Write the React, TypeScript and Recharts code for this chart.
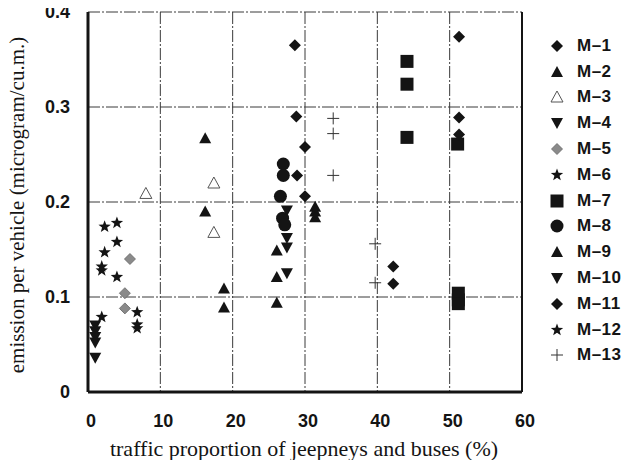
import React from 'react';
import { ScatterChart, Scatter, XAxis, YAxis, CartesianGrid, ReferenceLine } from 'recharts';

// traffic proportion (%) vs emission per vehicle, one small array per site
const m1 = [{ x: 28.6, y: 0.365 }, { x: 28.8, y: 0.29 }, { x: 30.0, y: 0.258 }, { x: 28.9, y: 0.228 }, { x: 30.0, y: 0.206 }];
const m2 = [{ x: 16.2, y: 0.267 }, { x: 16.2, y: 0.19 }, { x: 18.8, y: 0.109 }, { x: 18.8, y: 0.089 }];
const m3 = [{ x: 8.0, y: 0.209 }, { x: 17.4, y: 0.22 }, { x: 17.4, y: 0.168 }];
const m4 = [{ x: 1.0, y: 0.07 }, { x: 1.0, y: 0.064 }, { x: 1.0, y: 0.058 }, { x: 1.0, y: 0.052 }, { x: 1.0, y: 0.036 }];
const m5 = [{ x: 5.8, y: 0.14 }, { x: 5.1, y: 0.104 }, { x: 5.1, y: 0.088 }];
const m6 = [{ x: 2.3, y: 0.174 }, { x: 4.0, y: 0.178 }, { x: 4.0, y: 0.158 }, { x: 2.3, y: 0.147 }, { x: 1.9, y: 0.132 }, { x: 1.9, y: 0.128 }];
const m7 = [{ x: 44.1, y: 0.348 }, { x: 44.1, y: 0.324 }, { x: 44.1, y: 0.268 }, { x: 51.1, y: 0.261 }, { x: 51.2, y: 0.104 }, { x: 51.2, y: 0.097 }, { x: 51.2, y: 0.093 }];
const m8 = [{ x: 27.0, y: 0.24 }, { x: 27.0, y: 0.228 }, { x: 26.6, y: 0.206 }, { x: 26.9, y: 0.183 }, { x: 27.2, y: 0.176 }];
const m9 = [{ x: 26.1, y: 0.149 }, { x: 26.1, y: 0.121 }, { x: 26.1, y: 0.094 }, { x: 31.4, y: 0.195 }, { x: 31.4, y: 0.19 }, { x: 31.4, y: 0.184 }];
const m10 = [{ x: 27.5, y: 0.191 }, { x: 27.5, y: 0.162 }, { x: 27.5, y: 0.152 }, { x: 27.5, y: 0.125 }];
const m11 = [{ x: 42.2, y: 0.132 }, { x: 42.2, y: 0.114 }, { x: 51.3, y: 0.374 }, { x: 51.3, y: 0.289 }, { x: 51.3, y: 0.271 }];
const m12 = [{ x: 4.0, y: 0.121 }, { x: 1.9, y: 0.079 }, { x: 6.8, y: 0.084 }, { x: 6.8, y: 0.071 }, { x: 6.8, y: 0.067 }];
const m13 = [{ x: 33.9, y: 0.288 }, { x: 33.9, y: 0.272 }, { x: 33.9, y: 0.228 }, { x: 39.7, y: 0.156 }, { x: 39.7, y: 0.115 }];

const xTicks = [0, 10, 20, 30, 40, 50, 60];
const yTicks = [0, 0.1, 0.2, 0.3, 0.4];

const series = [
  { name: 'M–1', kind: 'diamond', data: m1 },
  { name: 'M–2', kind: 'up', data: m2 },
  { name: 'M–3', kind: 'open', data: m3 },
  { name: 'M–4', kind: 'down', data: m4 },
  { name: 'M–5', kind: 'gray', data: m5 },
  { name: 'M–6', kind: 'star', data: m6 },
  { name: 'M–7', kind: 'square', data: m7 },
  { name: 'M–8', kind: 'circle', data: m8 },
  { name: 'M–9', kind: 'up', data: m9 },
  { name: 'M–10', kind: 'down', data: m10 },
  { name: 'M–11', kind: 'diamond', data: m11 },
  { name: 'M–12', kind: 'star', data: m12 },
  { name: 'M–13', kind: 'plus', data: m13 },
];

const INK = '#141414';
const SERIF = 'Liberation Serif, Times New Roman, serif';
const SANS = 'Liberation Sans, Arial, sans-serif';

function starPoints(cx: number, cy: number, ro: number, ri: number) {
  const pts: string[] = [];
  for (let i = 0; i < 10; i++) {
    const r = i % 2 === 0 ? ro : ri;
    const a = -Math.PI / 2 + (i * Math.PI) / 5;
    pts.push(`${cx + r * Math.cos(a)},${cy + r * Math.sin(a)}`);
  }
  return pts.join(' ');
}

function Marker({ kind, cx, cy }: { kind: string; cx: number; cy: number }) {
  if (cx == null || cy == null) return null;
  switch (kind) {
    case 'diamond':
      return <polygon points={`${cx},${cy - 6} ${cx + 6},${cy} ${cx},${cy + 6} ${cx - 6},${cy}`} fill={INK} />;
    case 'gray':
      return <polygon points={`${cx},${cy - 5.5} ${cx + 5.5},${cy} ${cx},${cy + 5.5} ${cx - 5.5},${cy}`} fill="#8a8a8a" stroke="#666" strokeWidth={0.8} />;
    case 'up':
      return <polygon points={`${cx},${cy - 6} ${cx + 6},${cy + 5} ${cx - 6},${cy + 5}`} fill={INK} />;
    case 'down':
      return <polygon points={`${cx - 6},${cy - 5} ${cx + 6},${cy - 5} ${cx},${cy + 6}`} fill={INK} />;
    case 'open':
      return <polygon points={`${cx},${cy - 6} ${cx + 6},${cy + 5} ${cx - 6},${cy + 5}`} fill="#fff" stroke="#555" strokeWidth={1} />;
    case 'star':
      return <polygon points={starPoints(cx, cy, 6.5, 2.7)} fill={INK} />;
    case 'square':
      return <rect x={cx - 6.5} y={cy - 6.5} width={13} height={13} fill={INK} />;
    case 'circle':
      return <circle cx={cx} cy={cy} r={6.5} fill={INK} />;
    case 'plus':
      return (
        <g stroke="#333" strokeWidth={1}>
          <line x1={cx - 6} y1={cy} x2={cx + 6} y2={cy} />
          <line x1={cx} y1={cy - 6} x2={cx} y2={cy + 6} />
        </g>
      );
    default:
      return null;
  }
}

export default function App() {
  return (
    <div style={{ position: 'relative', width: 633, height: 468, background: '#fff', margin: -8 }}>
      <ScatterChart width={633} height={468} margin={{ top: 12, right: 111, bottom: 0, left: 0 }}>
        <CartesianGrid stroke="#3a3a3a" strokeWidth={1} strokeDasharray="12 2 2 2" />
        <XAxis
          type="number"
          dataKey="x"
          domain={[0, 60]}
          ticks={xTicks}
          height={76}
          axisLine={{ stroke: INK, strokeWidth: 3 }}
          tickLine={false}
          tickSize={0}
          tickMargin={22}
          tick={{ fill: INK, fontSize: 18, fontWeight: 'bold', fontFamily: SANS, dx: 3 }}
          label={{
            content: () => (
              <text x={304} y={456} textAnchor="middle" fill={INK} fontSize={22} fontFamily={SERIF}>
                traffic proportion of jeepneys and buses (%)
              </text>
            ),
          }}
        />
        <YAxis
          type="number"
          dataKey="y"
          domain={[0, 0.4]}
          ticks={yTicks}
          width={88}
          axisLine={{ stroke: INK, strokeWidth: 3 }}
          tickLine={false}
          tickSize={0}
          tickMargin={18}
          tickFormatter={(v: number) => (v === 0 ? '0' : v.toFixed(1))}
          tick={{ fill: INK, fontSize: 18, fontWeight: 'bold', fontFamily: SANS }}
          label={{
            content: () => (
              <text
                x={24}
                y={205}
                transform="rotate(-90 24 205)"
                textAnchor="middle"
                fill={INK}
                fontSize={21}
                fontFamily={SERIF}
              >
                emission per vehicle (microgram/cu.m.)
              </text>
            ),
          }}
        />
        <ReferenceLine x={60} stroke={INK} strokeWidth={2} />
        {series.map((s) => (
          <Scatter
            key={s.name}
            name={s.name}
            data={s.data}
            isAnimationActive={false}
            shape={(p: any) => <Marker kind={s.kind} cx={p.cx} cy={p.cy} />}
          />
        ))}
      </ScatterChart>
      <div style={{ position: 'absolute', left: 549, top: 33 }}>
        {series.map((s) => (
          <div key={s.name} style={{ display: 'flex', alignItems: 'center', height: 25.8 }}>
            <svg width={18} height={18} style={{ flex: 'none' }}>
              <Marker kind={s.kind} cx={8} cy={9} />
            </svg>
            <span
              style={{
                marginLeft: 10,
                fontFamily: SANS,
                fontWeight: 'bold',
                fontSize: 17,
                color: INK,
                letterSpacing: 0.5,
              }}
            >
              {s.name}
            </span>
          </div>
        ))}
      </div>
    </div>
  );
}
